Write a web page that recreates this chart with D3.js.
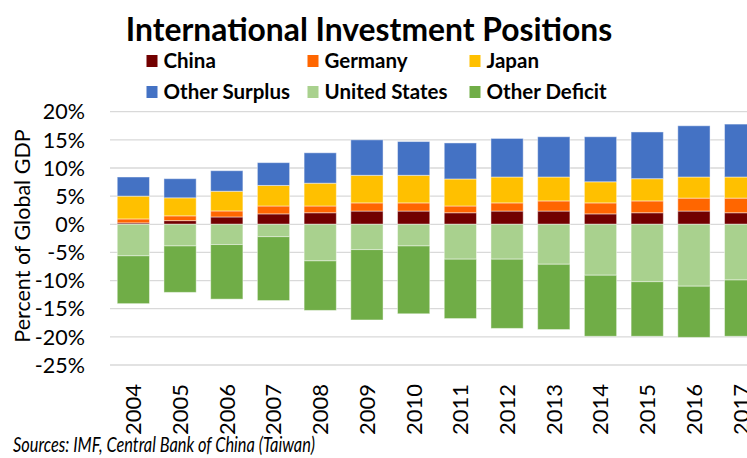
<!DOCTYPE html>
<html>
<head>
<meta charset="utf-8">
<script src="https://cdn.jsdelivr.net/npm/d3@7"></script>
<style>
  body { margin: 0; background: #fff; }
  svg { display: block; font-family: Lato, 'Open Sans', sans-serif; }
</style>
</head>
<body>
<div id="chart"></div>
<script>
const years = ['2004', '2005', '2006', '2007', '2008', '2009', '2010', '2011', '2012', '2013', '2014', '2015', '2016', '2017']
const seriesNames = ['China', 'Germany', 'Japan', 'Other Surplus', 'United States', 'Other Deficit']
const china = [0.25, 0.65, 1.3, 1.85, 2.05, 2.35, 2.35, 2.05, 2.35, 2.35, 1.85, 2.05, 2.35, 2.05]
const germany = [0.7, 0.85, 1.07, 1.4, 1.2, 1.45, 1.45, 1.2, 1.45, 1.8, 1.95, 2.1, 2.3, 2.6]
const japan = [4.05, 3.2, 3.5, 3.65, 4.05, 4.9, 4.9, 4.8, 4.6, 4.25, 3.75, 3.95, 3.75, 3.75]
const otherSurplus = [3.4, 3.4, 3.65, 4.05, 5.4, 6.3, 6.0, 6.4, 6.85, 7.15, 8.0, 8.3, 9.1, 9.4]
const unitedStates = [-5.6, -3.85, -3.6, -2.2, -6.5, -4.5, -3.85, -6.2, -6.2, -7.1, -9.05, -10.2, -11.0, -9.9]
const otherDeficit = [-8.5, -8.25, -9.7, -11.35, -8.8, -12.5, -12.05, -10.55, -12.3, -11.6, -10.85, -9.7, -9.1, -10.0]
const yTicks = [20, 15, 10, 5, 0, -5, -10, -15, -20, -25]
const colors = ['#720000', '#ff6600', '#ffc000', '#4472c4', '#a9d18e', '#70ad47']

const width = 747
const height = 458
const valuesBySeries = [china, germany, japan, otherSurplus, unitedStates, otherDeficit]

// 整理成 stack 需要的格式
const rows = years.map((year, i) => {
  const row = { year }
  seriesNames.forEach((name, s) => { row[name] = valuesBySeries[s][i] })
  return row
})

const stacked = d3.stack().keys(seriesNames).offset(d3.stackOffsetDiverging)(rows)

const x = d3.scaleBand().domain(years).range([110, 764]).paddingInner(0.31).paddingOuter(0.155)
const y = d3.scaleLinear().domain([-25, 20]).range([365, 111.7])

const svg = d3.select('#chart').append('svg').attr('width', width).attr('height', height)

// 格線
svg.append('g')
  .selectAll('line')
  .data(yTicks)
  .join('line')
  .attr('x1', 110)
  .attr('x2', width)
  .attr('y1', d => y(d))
  .attr('y2', d => y(d))
  .attr('stroke', '#d9d9d9')
  .attr('stroke-width', 1.3)

// y 軸刻度
svg.append('g')
  .selectAll('text')
  .data(yTicks)
  .join('text')
  .attr('x', 85)
  .attr('y', d => y(d))
  .attr('dy', '0.36em')
  .attr('text-anchor', 'end')
  .style('font-size', '21.5px')
  .text(d => `${d}%`)

// 長條
svg.append('g')
  .selectAll('g')
  .data(stacked)
  .join('g')
  .attr('fill', (d, i) => colors[i])
  .selectAll('rect')
  .data(d => d)
  .join('rect')
  .attr('x', d => x(d.data.year))
  .attr('width', x.bandwidth())
  .attr('y', d => y(d[1]))
  .attr('height', d => y(d[0]) - y(d[1]))
  .attr('stroke', 'rgba(255,255,255,0.45)')
  .attr('stroke-width', 1)

// x 軸標籤
svg.append('g')
  .selectAll('text')
  .data(years)
  .join('text')
  .attr('transform', d => `translate(${x(d) + x.bandwidth() / 2},384) rotate(-90)`)
  .attr('dy', '0.36em')
  .attr('text-anchor', 'end')
  .style('font-size', '22px')
  .text(d => d)

// y 軸標題
svg.append('text')
  .attr('transform', 'translate(22,236) rotate(-90)')
  .attr('dy', '0.36em')
  .attr('text-anchor', 'middle')
  .style('font-size', '21.5px')
  .text('Percent of Global GDP')

// 標題
svg.append('text')
  .attr('x', 369)
  .attr('y', 41)
  .attr('text-anchor', 'middle')
  .style('font-size', '31.8px')
  .style('font-weight', 'bold')
  .text('International Investment Positions')

// 圖例
const legendCols = [146.5, 307.5, 469.5]
const legendRows = [61, 92]
const legend = svg.append('g')
  .selectAll('g')
  .data(seriesNames)
  .join('g')
  .attr('transform', (d, i) => `translate(${legendCols[i % 3]},${legendRows[Math.floor(i / 3)]})`)

legend.append('rect')
  .attr('x', 0)
  .attr('y', -6)
  .attr('width', 11)
  .attr('height', 12)
  .attr('fill', (d, i) => colors[i])

legend.append('text')
  .attr('x', 17)
  .attr('y', 0)
  .attr('dy', '0.36em')
  .style('font-size', '20.5px')
  .style('font-weight', 'bold')
  .text(d => d)

// 資料來源
svg.append('text')
  .attr('x', 13)
  .attr('y', 452)
  .attr('textLength', 302)
  .attr('lengthAdjust', 'spacingAndGlyphs')
  .style('font-size', '22px')
  .style('font-style', 'italic')
  .text('Sources: IMF, Central Bank of China (Taiwan)')
</script>
</body>
</html>
